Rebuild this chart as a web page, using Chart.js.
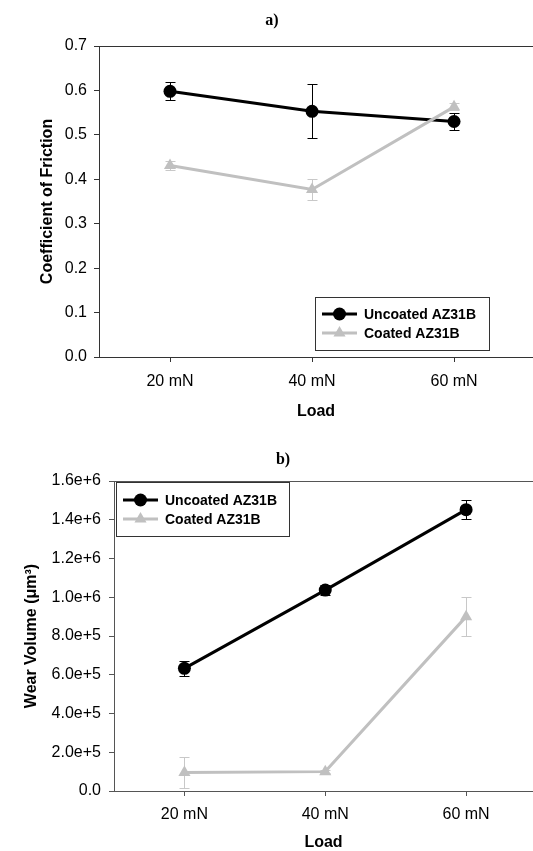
<!DOCTYPE html>
<html>
<head>
<meta charset="utf-8">
<script src="https://cdn.jsdelivr.net/npm/chart.js@4"></script>
<style>
  html, body { margin: 0; padding: 0; background: #fff; overflow: hidden; }
  canvas { display: block; }
</style>
</head>
<body>
<canvas id="cofChart" width="533" height="430"></canvas>
<canvas id="wearChart" width="533" height="421"></canvas>
<script>
// data
var loads = ["20 mN", "40 mN", "60 mN"];
var seriesNames = ["Uncoated AZ31B", "Coated AZ31B"];

var cofUncoated = [0.598, 0.553, 0.530];
var cofUncoatedErr = [0.020, 0.061, 0.019];
var cofCoated = [0.431, 0.377, 0.563];
var cofCoatedErr = [0.010, 0.023, 0.008];
var cofTicks = [0, 0.1, 0.2, 0.3, 0.4, 0.5, 0.6, 0.7];

var wearUncoated = [633000, 1037000, 1452000];
var wearUncoatedErr = [40000, 25000, 48000];
var wearCoated = [95000, 100000, 900000];
var wearCoatedErr = [78000, 6000, 100000];
var wearTicks = [0, 200000, 400000, 600000, 800000, 1000000, 1200000, 1400000, 1600000];

var SANS = "'Liberation Sans', Arial, Helvetica, sans-serif";
var SERIF = "'Liberation Serif', 'Times New Roman', serif";
var BLACK = "#000000";
var GREY = "#c0c0c0";

function points(vals) {
  return vals.map(function (v, i) { return { x: i, y: v }; });
}

var errorBars = {
  id: "errorBars",
  beforeDatasetsDraw: function (chart) {
    var ctx = chart.ctx, xs = chart.scales.x, ys = chart.scales.y;
    chart.data.datasets.forEach(function (ds) {
      if (!ds.errors) return;
      ctx.save();
      ctx.strokeStyle = ds.errorColor;
      ctx.lineWidth = 1;
      ds.data.forEach(function (p, j) {
        var e = ds.errors[j];
        var x = Math.round(xs.getPixelForValue(p.x)) + 0.5;
        var t = Math.round(ys.getPixelForValue(p.y + e)) + 0.5;
        var b = Math.round(ys.getPixelForValue(p.y - e)) + 0.5;
        ctx.beginPath();
        ctx.moveTo(x, t); ctx.lineTo(x, b);
        ctx.moveTo(x - 5, t); ctx.lineTo(x + 5, t);
        ctx.moveTo(x - 5, b); ctx.lineTo(x + 5, b);
        ctx.stroke();
      });
      ctx.restore();
    });
  }
};

var frame = {
  id: "frame",
  afterDraw: function (chart, args, opts) {
    var ctx = chart.ctx, a = chart.chartArea;
    ctx.save();
    // top border of the plot
    ctx.strokeStyle = opts.axisColor;
    ctx.lineWidth = 1;
    ctx.beginPath();
    ctx.moveTo(a.left, a.top + 0.5);
    ctx.lineTo(chart.width, a.top + 0.5);
    ctx.stroke();
    // panel label
    ctx.fillStyle = "#000";
    ctx.font = "bold 16px " + SERIF;
    ctx.textAlign = "center";
    ctx.textBaseline = "middle";
    ctx.fillText(opts.label, opts.labelX, opts.labelY);
    // legend box
    var L = opts.legend;
    ctx.fillStyle = "#fff";
    ctx.fillRect(L.x, L.y, L.w, L.h);
    ctx.strokeStyle = "#333";
    ctx.strokeRect(L.x + 0.5, L.y + 0.5, L.w, L.h);
    chart.data.datasets.forEach(function (ds, i) {
      var y = L.y + L.row0 + i * L.rowGap;
      var x0 = L.x + 7;
      ctx.strokeStyle = ds.borderColor;
      ctx.lineWidth = 3;
      ctx.beginPath();
      ctx.moveTo(x0, y); ctx.lineTo(x0 + 35, y);
      ctx.stroke();
      ctx.fillStyle = ds.pointBackgroundColor;
      Chart.helpers.drawPoint(ctx, {
        pointStyle: ds.pointStyle, radius: ds.pointRadius, rotation: 0, borderWidth: 0
      }, x0 + 17.5, y);
      ctx.fillStyle = "#000";
      ctx.font = "bold 14px " + SANS;
      ctx.textAlign = "left";
      ctx.textBaseline = "middle";
      ctx.fillText(ds.label, x0 + 42, y + 1);
    });
    ctx.restore();
  }
};

function lineSet(label, vals, errs, color, style, radius, order) {
  return {
    label: label,
    data: points(vals),
    errors: errs,
    errorColor: color === BLACK ? "#000" : "#c8c8c8",
    borderColor: color,
    backgroundColor: color,
    pointBackgroundColor: color,
    pointBorderColor: color,
    pointBorderWidth: 0,
    pointStyle: style,
    pointRadius: radius,
    borderWidth: 3,
    tension: 0,
    order: order
  };
}

function makeChart(id, cfg) {
  var axisColor = cfg.axisColor;
  return new Chart(document.getElementById(id), {
    type: "line",
    data: {
      datasets: [
        lineSet(seriesNames[0], cfg.uncoated, cfg.uncoatedErr, BLACK, "circle", 6.5, 0),
        lineSet(seriesNames[1], cfg.coated, cfg.coatedErr, GREY, "triangle", 7, -1)
      ]
    },
    options: {
      responsive: false,
      animation: false,
      devicePixelRatio: 1,
      layout: { autoPadding: false, padding: { top: cfg.padTop, right: 0, left: 0, bottom: 0 } },
      plugins: {
        legend: { display: false },
        tooltip: { enabled: false },
        frame: cfg.frame
      },
      scales: {
        x: {
          type: "linear",
          min: -0.5,
          max: cfg.xMax,
          afterBuildTicks: function (s) {
            s.ticks = loads.map(function (l, i) { return { value: i }; });
          },
          ticks: {
            callback: function (v) { return loads[v]; },
            font: { family: SANS, size: 16 },
            color: "#000",
            padding: cfg.xTickPad,
            maxRotation: 0
          },
          grid: { drawOnChartArea: false, drawTicks: true, tickLength: 5, color: axisColor },
          border: { color: axisColor, width: 1 },
          title: {
            display: true, text: "Load", color: "#000",
            font: { family: SANS, size: 16, weight: "bold", lineHeight: 1 },
            padding: { top: 0, bottom: cfg.xTitlePad }
          },
          afterFit: function (s) {
            s.height = cfg.xHeight;
            s.paddingLeft = 0; s.paddingRight = 0;
          }
        },
        y: {
          min: 0,
          max: cfg.yMax,
          afterBuildTicks: function (s) {
            s.ticks = cfg.yTicks.map(function (v) { return { value: v }; });
          },
          ticks: {
            callback: cfg.yFormat,
            font: { family: SANS, size: 16 },
            color: "#000",
            padding: cfg.yTickPad
          },
          grid: { drawOnChartArea: false, drawTicks: true, tickLength: 5, color: axisColor },
          border: { color: axisColor, width: 1 },
          title: {
            display: true, text: cfg.yTitle, color: "#000",
            font: { family: SANS, size: 16, weight: "bold", lineHeight: 1 },
            padding: { top: cfg.yTitlePad, bottom: 0 }
          },
          afterFit: function (s) {
            s.width = cfg.yWidth;
            s.paddingTop = 0; s.paddingBottom = 0;
          }
        }
      }
    },
    plugins: [errorBars, frame]
  });
}

makeChart("cofChart", {
  uncoated: cofUncoated, uncoatedErr: cofUncoatedErr,
  coated: cofCoated, coatedErr: cofCoatedErr,
  yTicks: cofTicks, yMax: 0.7,
  yFormat: function (v) { return v.toFixed(1); },
  yTitle: "Coefficient of Friction",
  axisColor: "#333",
  padTop: 46, xMax: 2.556, xHeight: 73, yWidth: 99,
  xTickPad: 10, xTitlePad: 10, yTickPad: 7, yTitlePad: 40,
  frame: {
    axisColor: "#333", label: "a)", labelX: 272, labelY: 21,
    legend: { x: 315, y: 297, w: 174, h: 53, row0: 17, rowGap: 19 }
  }
});

makeChart("wearChart", {
  uncoated: wearUncoated, uncoatedErr: wearUncoatedErr,
  coated: wearCoated, coatedErr: wearCoatedErr,
  yTicks: wearTicks, yMax: 1600000,
  yFormat: function (v) { return v === 0 ? "0.0" : v.toExponential(1); },
  yTitle: "Wear Volume (\u03bcm\u00b3)",
  axisColor: "#555",
  padTop: 51, xMax: 2.475, xHeight: 60, yWidth: 114,
  xTickPad: 9, xTitlePad: 0, yTickPad: 8, yTitlePad: 24,
  frame: {
    axisColor: "#555", label: "b)", labelX: 283, labelY: 30,
    legend: { x: 116, y: 52, w: 173, h: 54, row0: 18, rowGap: 19 }
  }
});
</script>
</body>
</html>
